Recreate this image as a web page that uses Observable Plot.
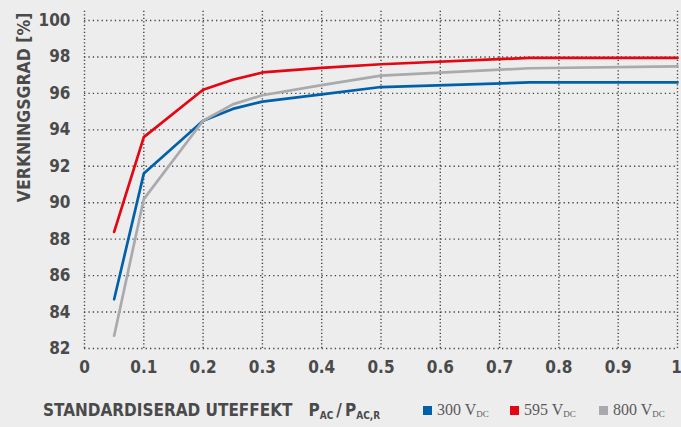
<!DOCTYPE html>
<html><head><meta charset="utf-8">
<script src="https://cdn.jsdelivr.net/npm/d3@7"></script>
<script src="https://cdn.jsdelivr.net/npm/@observablehq/plot@0.6"></script>
<style>
html,body{margin:0;padding:0;background:#ededed;width:681px;height:427px;overflow:hidden;position:relative}
#chart svg{background:#ededed;display:block}
#xtitle{position:absolute;left:43px;top:400px;font-family:"DejaVu Sans Condensed","DejaVu Sans",sans-serif;font-weight:bold;font-size:17px;color:#4a4a4a;white-space:nowrap}
#xtitle sub{font-size:10px;vertical-align:-3px}
.leg{position:absolute;top:401px;font-family:"Liberation Serif","DejaVu Serif",serif;font-size:16px;color:#5a5a5a;white-space:nowrap}
.leg span.sw{display:inline-block;width:9px;height:9px;margin-right:5px;vertical-align:0px}
.leg sub{font-size:9px;vertical-align:-2px}
</style>
</head><body>
<div id="chart"></div>
<div id="xtitle">STANDARDISERAD UTEFFEKT&nbsp;&nbsp; P<sub>AC</sub>&thinsp;/&thinsp;P<sub>AC,R</sub></div>
<script>
const xValues = [0.05, 0.1, 0.2, 0.25, 0.3, 0.4, 0.5, 0.75, 1.0];
const series = ["300 V", "595 V", "800 V"];
const colors = ["#0061aa", "#e30613", "#a8aaad"];
const eff300 = [84.7, 91.6, 94.5, 95.15, 95.55, 95.95, 96.35, 96.6, 96.6];
const eff595 = [88.4, 93.6, 96.2, 96.75, 97.15, 97.4, 97.6, 97.95, 97.95];
const eff800 = [82.7, 90.2, 94.5, 95.4, 95.9, 96.45, 96.98, 97.38, 97.48];
const xTicks = [0, 0.1, 0.2, 0.3, 0.4, 0.5, 0.6, 0.7, 0.8, 0.9, 1];
const yTicks = [82, 84, 86, 88, 90, 92, 94, 96, 98, 100];
const yLabel = "VERKNINGSGRAD [%]";
const legendLefts = [423, 510, 599];

const data = [];
[eff300, eff595, eff800].forEach((arr, i) => arr.forEach((v, j) => data.push({s: series[i], x: xValues[j], y: v})));

const plot = Plot.plot({
  width: 681, height: 392,
  marginLeft: 84, marginRight: 4, marginTop: 10, marginBottom: 44,
  style: {background: "#ededed", fontFamily: "'DejaVu Sans Condensed','DejaVu Sans',sans-serif", fontWeight: "bold", fontSize: "17px", color: "#4a4a4a"},
  x: {domain: [0, 1], ticks: xTicks, label: null},
  y: {domain: [82, 100.55], ticks: yTicks, label: null},
  color: {domain: series, range: colors},
  marks: [
    Plot.ruleX(xTicks, {stroke: "#444", strokeWidth: 1.4, strokeDasharray: "1.2,2.3", y1: 82, y2: 100.55}),
    Plot.ruleY(yTicks, {stroke: "#444", strokeWidth: 1.4, strokeDasharray: "1.3,3.1"}),
    Plot.line(data, {x: "x", y: "y", stroke: "s", z: "s", strokeWidth: 2.7}),
    Plot.axisX(xTicks.filter(t => t < 1), {tickSize: 0, tickPadding: 12, tickFormat: d => String(d), label: null}),
    Plot.axisX([1], {tickSize: 0, tickPadding: 12, tickFormat: d => String(d), label: null, dx: -1}),
    Plot.axisY({ticks: yTicks, tickSize: 0, tickPadding: 14, label: null}),
    Plot.text([yLabel], {frameAnchor: "top-left", text: d => d, rotate: -90, textAnchor: "end", dx: -67, dy: 2, fontSize: 17.5, fontWeight: "bold", fill: "#4a4a4a"})
  ]
});
document.getElementById("chart").appendChild(plot);

series.forEach((s, i) => {
  const d = document.createElement("div");
  d.className = "leg";
  d.style.left = legendLefts[i] + "px";
  d.innerHTML = `<span class="sw" style="background:${colors[i]}"></span>${s}<sub>DC</sub>`;
  document.body.appendChild(d);
});
</script>
</body></html>
